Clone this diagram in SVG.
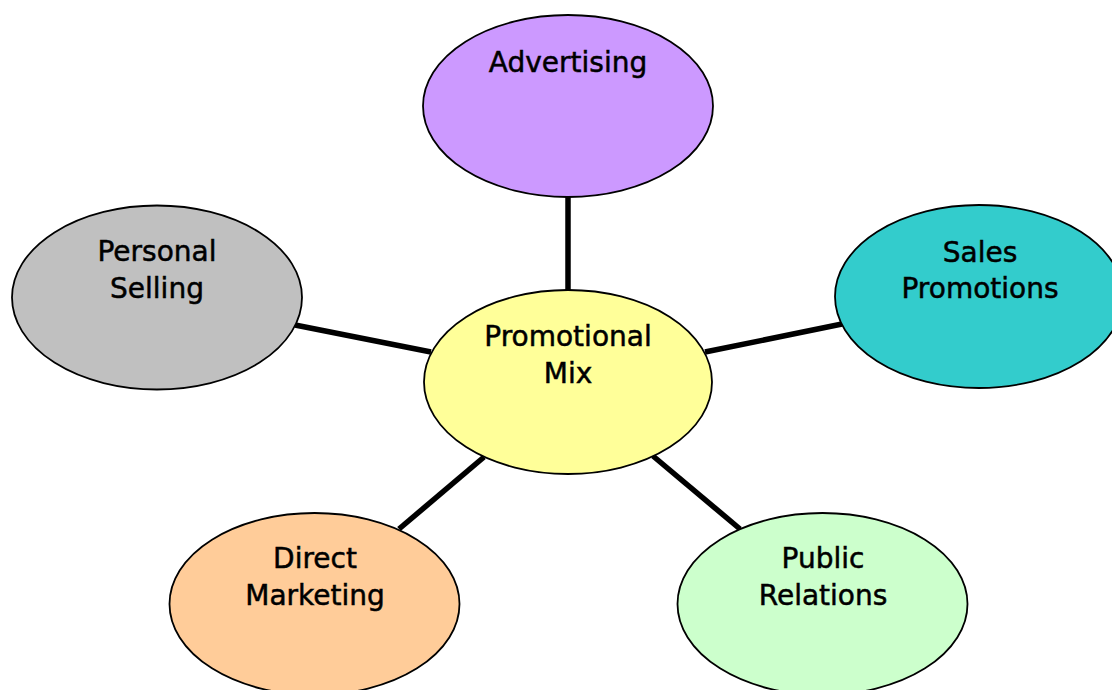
<svg xmlns="http://www.w3.org/2000/svg" width="1112" height="690" viewBox="0 0 1112 690">
<style>
.n{stroke:#000;stroke-width:1.8}
.t{font-family:"DejaVu Sans",sans-serif;font-size:28px;fill:#000;stroke:#000;stroke-width:0.5;text-anchor:middle}
.c{stroke:#000;stroke-width:5.5;fill:none}
</style>
<rect width="1112" height="690" fill="#fff"/>
<g id="connectors">
<line class="c" x1="568" y1="197" x2="568" y2="291"/>
<line class="c" x1="295" y1="325" x2="431" y2="352"/>
<line class="c" x1="842" y1="324" x2="705" y2="352"/>
<line class="c" x1="484" y1="457" x2="399" y2="529"/>
<line class="c" x1="653" y1="456" x2="740" y2="529"/>
</g>
<g id="advertising">
<ellipse class="n" cx="568" cy="106" rx="145" ry="91" fill="#CC99FF"/>
<text class="t" x="568" y="72">Advertising</text>
</g>
<g id="sales-promotions">
<ellipse class="n" cx="979" cy="296.5" rx="144" ry="91.5" fill="#33CCCC"/>
<text class="t" x="980" y="262">Sales</text>
<text class="t" x="980" y="298">Promotions</text>
</g>
<g id="personal-selling">
<ellipse class="n" cx="157" cy="297.5" rx="145" ry="92" fill="#C0C0C0"/>
<text class="t" x="157" y="261">Personal</text>
<text class="t" x="157" y="298">Selling</text>
</g>
<g id="promotional-mix">
<ellipse class="n" cx="568" cy="382" rx="144" ry="92" fill="#FFFF99"/>
<text class="t" x="568" y="346">Promotional</text>
<text class="t" x="568" y="383">Mix</text>
</g>
<g id="direct-marketing">
<ellipse class="n" cx="314.5" cy="604" rx="145" ry="91" fill="#FFCC99"/>
<text class="t" x="315" y="568">Direct</text>
<text class="t" x="315" y="605">Marketing</text>
</g>
<g id="public-relations">
<ellipse class="n" cx="822.5" cy="604" rx="145" ry="91" fill="#CCFFCC"/>
<text class="t" x="823" y="568">Public</text>
<text class="t" x="823" y="605">Relations</text>
</g>
</svg>
